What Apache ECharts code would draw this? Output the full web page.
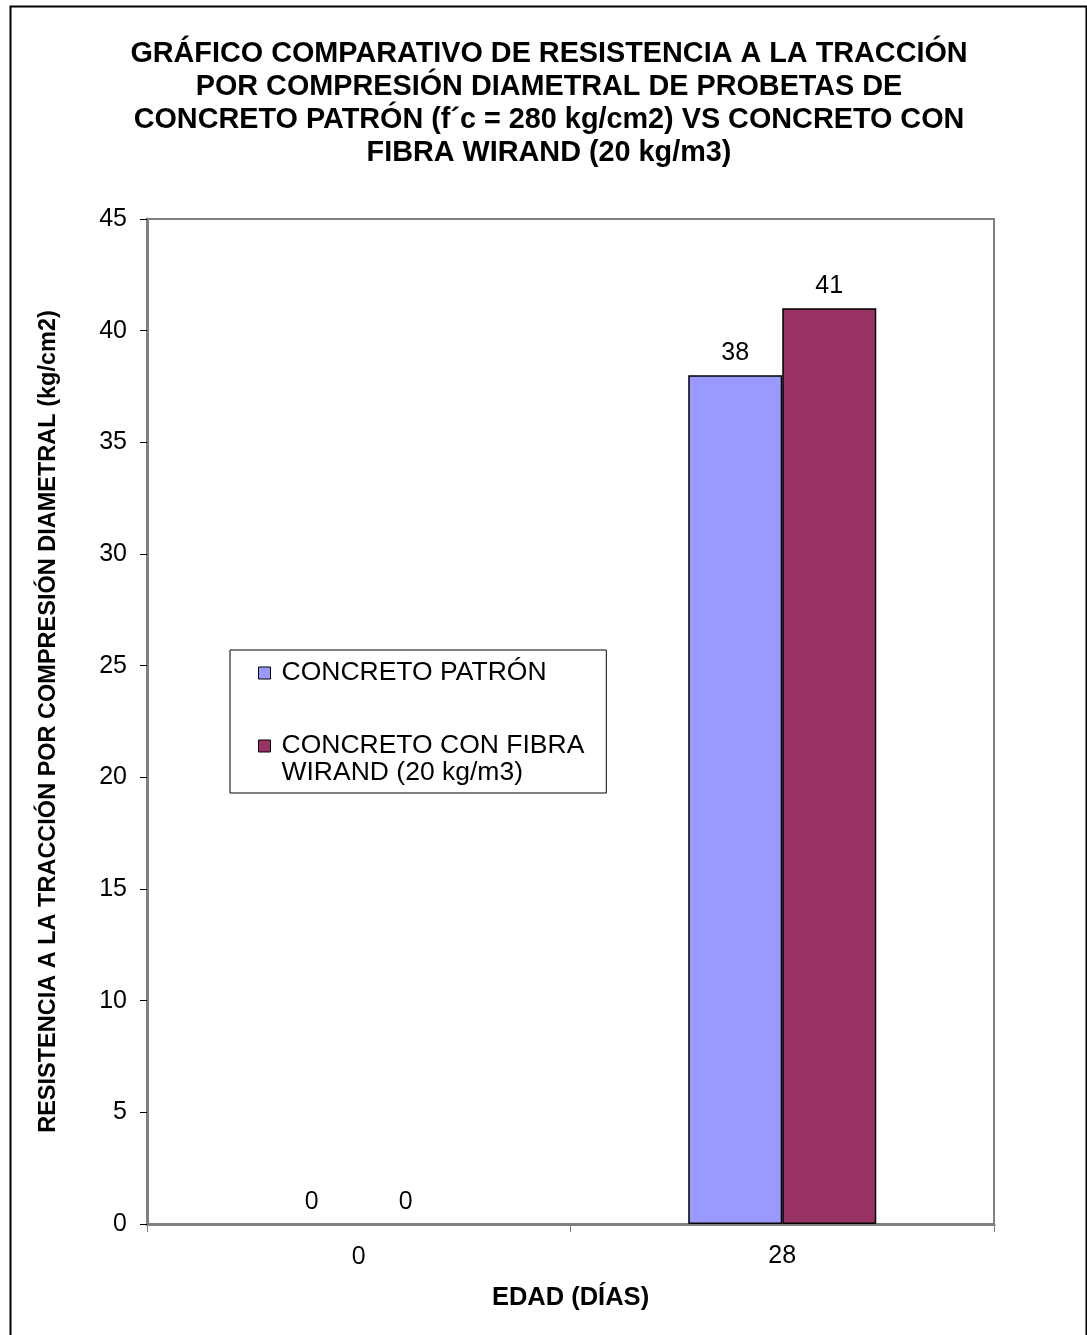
<!DOCTYPE html>
<html>
<head>
<meta charset="utf-8">
<title>Resistencia a la tracción por compresión diametral</title>
<script src="https://cdn.jsdelivr.net/npm/echarts@6/dist/echarts.min.js"></script>
<style>
  html, body { margin: 0; padding: 0; background: #fff; }
  #chart { width: 1087px; height: 1335px; }
</style>
</head>
<body>
<div id="chart"></div>
<script>
// Edades de ensayo (días)
const edades = ['0', '28'];
// Resistencia a la tracción (kg/cm2)
const patron = [0, 38];
const conFibra = [0, 41];
const nombrePatron = 'CONCRETO PATRÓN';
// leading blank line keeps the legend swatch beside the first line of text
const nombreFibra = '\nCONCRETO CON FIBRA\nWIRAND (20 kg/m3)';
const yTicks = { min: 0, max: 45, interval: 5 };

const FONT = 'Liberation Sans, Arial, sans-serif';
const ZERO_FONT = 'Open Sans, sans-serif';
const TICK_SIZE = 25;
const VALUE_SIZE = 25;

const chart = echarts.init(document.getElementById('chart'), null, { renderer: 'canvas' });

// zero values are set in a different face than the rest of the labels
function zeroRich(v) {
  return String(v) === '0' ? '{z|0}' : String(v);
}

const barLabel = {
  show: true,
  position: 'top',
  distance: 10,
  fontFamily: FONT,
  fontSize: VALUE_SIZE,
  color: '#000',
  formatter: p => zeroRich(p.value),
  rich: { z: { fontFamily: ZERO_FONT, fontSize: VALUE_SIZE, color: '#000' } }
};

// empty bars get no outline
function barData(values) {
  return values.map(v => v === 0 ? { value: v, itemStyle: { borderWidth: 0 } } : v);
}

chart.setOption({
  backgroundColor: '#fff',
  animation: false,
  title: {
    text: 'GRÁFICO COMPARATIVO DE RESISTENCIA A LA TRACCIÓN\nPOR COMPRESIÓN DIAMETRAL DE PROBETAS DE\nCONCRETO PATRÓN (f´c = 280 kg/cm2) VS CONCRETO CON\nFIBRA WIRAND (20 kg/m3)',
    left: 549,
    textAlign: 'center',
    top: 38,
    padding: 0,
    textStyle: {
      fontFamily: FONT,
      fontWeight: 'bold',
      fontSize: 28.8,
      lineHeight: 33,
      color: '#000'
    }
  },
  legend: {
    orient: 'vertical',
    left: 230,
    top: 650,
    padding: [9.5, 22, 6.5, 28],
    itemGap: 19,
    itemWidth: 12,
    itemHeight: 12,
    icon: 'rect',
    borderColor: '#000',
    borderWidth: 1,
    backgroundColor: '#fff',
    selectedMode: false,
    textStyle: {
      fontFamily: FONT,
      fontSize: 26.5,
      lineHeight: 27,
      color: '#000',
      padding: [0, 0, 0, 6]
    },
    data: [
      { name: nombrePatron, itemStyle: { borderColor: '#000', borderWidth: 1 } },
      { name: nombreFibra, itemStyle: { borderColor: '#000', borderWidth: 1 } }
    ]
  },
  grid: {
    left: 147,
    right: 1087 - 994,
    top: 219,
    bottom: 1335 - 1224,
    show: true,
    borderColor: '#808080',
    borderWidth: 2,
    backgroundColor: 'transparent'
  },
  xAxis: {
    type: 'category',
    data: edades,
    boundaryGap: true,
    name: 'EDAD (DÍAS)',
    nameLocation: 'middle',
    nameGap: 61,
    nameTextStyle: { fontFamily: FONT, fontWeight: 'bold', fontSize: 25.5, color: '#000', verticalAlign: 'top' },
    axisLine: { lineStyle: { color: '#808080', width: 3 } },
    axisTick: { show: true, length: 8, inside: false, alignWithLabel: false, lineStyle: { color: '#808080', width: 1 } },
    axisLabel: {
      margin: 20,
      fontFamily: FONT,
      fontSize: TICK_SIZE,
      color: '#000',
      formatter: v => zeroRich(v),
      rich: { z: { fontFamily: ZERO_FONT, fontSize: TICK_SIZE, color: '#000' } }
    },
    splitLine: { show: false }
  },
  yAxis: {
    type: 'value',
    min: yTicks.min,
    max: yTicks.max,
    interval: yTicks.interval,
    name: 'RESISTENCIA A LA TRACCIÓN POR COMPRESIÓN DIAMETRAL (kg/cm2)',
    nameLocation: 'middle',
    nameGap: 86,
    nameRotate: 90,
    nameTextStyle: { fontFamily: FONT, fontWeight: 'bold', fontSize: 23.5, color: '#000' },
    axisLine: { show: true, lineStyle: { color: '#808080', width: 3 } },
    axisTick: { show: true, length: 7, inside: false, lineStyle: { color: '#000', width: 1 } },
    axisLabel: {
      margin: 20,
      fontFamily: FONT,
      fontSize: TICK_SIZE,
      color: '#000',
      formatter: v => zeroRich(v),
      rich: { z: { fontFamily: ZERO_FONT, fontSize: TICK_SIZE, color: '#000' } }
    },
    splitLine: { show: false }
  },
  series: [
    {
      name: nombrePatron,
      type: 'bar',
      data: barData(patron),
      barGap: '0%',
      barCategoryGap: '55.6%',
      itemStyle: { color: '#9999FF', borderColor: '#000', borderWidth: 1.5 },
      label: barLabel
    },
    {
      name: nombreFibra,
      type: 'bar',
      data: barData(conFibra),
      barGap: '0%',
      barCategoryGap: '55.6%',
      itemStyle: { color: '#993366', borderColor: '#000', borderWidth: 1.5 },
      label: barLabel
    }
  ],
  graphic: [
    {
      type: 'rect',
      left: 8,
      top: 4,
      shape: { x: 0, y: 0, width: 1076, height: 1345 },
      style: { fill: 'none', stroke: '#000', lineWidth: 2 },
      silent: true,
      z: 100
    }
  ]
});
</script>
</body>
</html>
